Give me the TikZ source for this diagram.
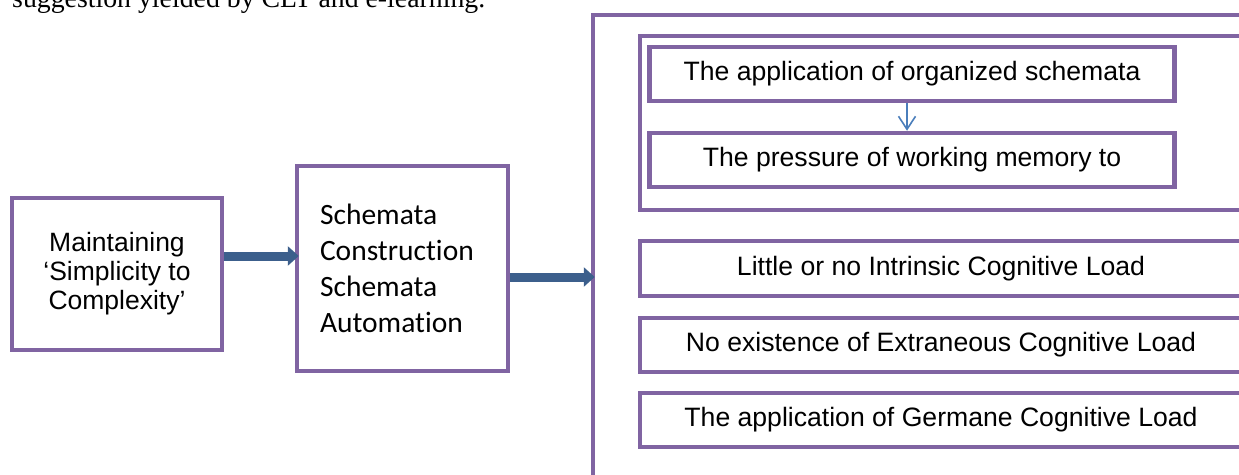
\documentclass[tikz,border=0pt]{standalone}
\usepackage{fontspec}
\setmainfont{Liberation Serif}
\newfontfamily\arialf{Liberation Sans}
\newfontfamily\calibrif[Ligatures=NoCommon]{Carlito}
\usetikzlibrary{arrows.meta}
\definecolor{boxpurple}{HTML}{8064A2}
\definecolor{arrowblue}{HTML}{3C5F8C}
\definecolor{thinblue}{HTML}{4A7EBB}
\begin{document}
\begin{tikzpicture}[x=1pt,y=-1pt,
  pbox/.style={draw=boxpurple, line width=4.5pt, fill=white, rectangle, inner sep=0pt, align=center},
  rtext/.style={font=\arialf\fontsize{26.6}{30}\selectfont},
  thickarrow/.style={draw=arrowblue, line width=9pt, -{Triangle[length=11pt,width=19pt]}, shorten >=-4pt},
  thinarrow/.style={draw=thinblue, line width=1.6pt, -{Straight Barb[length=13pt,width=17pt]}}]
\useasboundingbox (0,0) rectangle (1239,474);
\clip (0,0) rectangle (1239,474);
% caption fragment
\node[anchor=base west, inner sep=0pt, font=\fontsize{27.8}{32}\selectfont] (cap) at (12,7.5) {suggestion yielded by CLT and e-learning.};
% outer frame
\node[pbox, minimum width=707pt, minimum height=505pt] (outer) at (946.5,267.5) {};
% left boxes
\node[pbox, minimum width=210pt, minimum height=152pt, font=\arialf\fontsize{26.5}{29}\selectfont] (b1) at (117,274) {Maintaining\\‘Simplicity to\\Complexity’};
\node[pbox, minimum width=211pt, minimum height=205pt, text width=165pt, align=left, font=\calibrif\fontsize{29.5}{36}\selectfont] (b2) at (402.5,268.5) {Schemata\\Construction\\Schemata\\Automation};
% inner group
\node[pbox, minimum width=605pt, minimum height=174pt] (grp) at (942.5,123) {};
\node[pbox, rtext, minimum width=525pt, minimum height=54pt] (s1) at (912,74) {The application of organized schemata};
\node[pbox, rtext, minimum width=525pt, minimum height=54pt] (s2) at (912,160) {The pressure of working memory to};
% lower boxes
\node[pbox, rtext, minimum width=602pt, minimum height=55pt] (l1) at (941,268.5) {Little or no Intrinsic Cognitive Load};
\node[pbox, rtext, minimum width=602pt, minimum height=54pt] (l2) at (941,345) {No existence of Extraneous Cognitive Load};
\node[pbox, rtext, minimum width=602pt, minimum height=54pt] (l3) at (941,420) {The application of Germane Cognitive Load};
% connectors
\coordinate (r1) at (0,256);
\coordinate (r2) at (0,277);
\coordinate (ta) at (907,0);
\draw[thickarrow] (b1.east |- r1) -- (b2.west |- r1);
\draw[thickarrow] (b2.east |- r2) -- (outer.west |- r2);
\draw[thinarrow] (s1.south -| ta) -- (s2.north -| ta);
\end{tikzpicture}
\end{document}
